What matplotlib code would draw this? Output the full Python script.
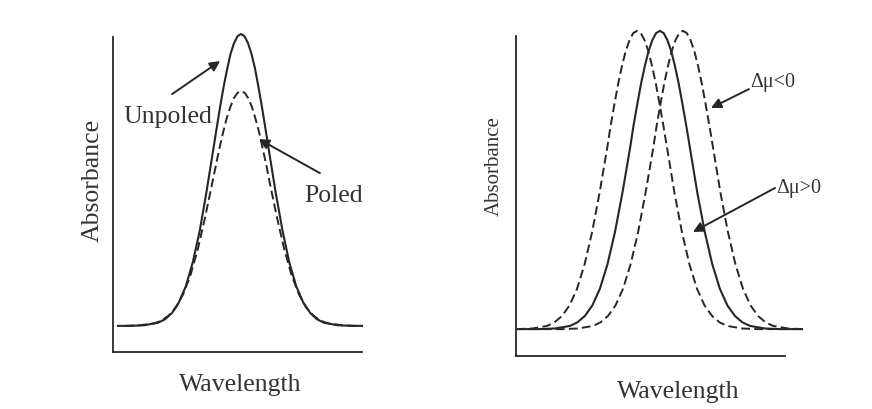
import matplotlib
matplotlib.use("Agg")
import matplotlib.pyplot as plt

# ------------------------------------------------------------------ Daten
# linkes Panel: Absorptionsbande ungepolt / gepolt (willkuerliche Einheiten)
unpoled_x = [2.0,
             7.0, 12.6, 18.1, 20.9, 23.7, 26.4, 29.2, 32.0, 34.8, 37.5,
             40.3, 41.7, 43.1, 44.5, 45.9, 47.2, 48.6, 50.0, 51.4,
             52.8, 54.2, 55.6, 57.0, 58.3, 59.7, 61.1, 62.5, 65.3,
             68.1, 70.8, 73.6, 76.4, 79.2, 81.9, 84.7, 90.3, 95.8,
             100.0]
unpoled_y = [8.3,
             8.3, 8.5, 9.3, 10.4, 12.4, 15.7, 20.8, 28.4, 38.4, 50.7,
             64.5, 71.5, 78.3, 84.6, 90.1, 94.7, 98.1, 100.3, 101.0,
             100.3, 98.1, 94.7, 90.1, 84.6, 78.3, 71.5, 64.5, 50.7,
             38.4, 28.4, 20.8, 15.7, 12.4, 10.4, 9.3, 8.5, 8.3,
             8.3]

poled_x = [5.0, 10.8, 16.6, 19.5, 22.4, 25.3, 28.2, 31.1, 34.0, 36.9,
           39.8, 41.3, 42.7, 44.2, 45.6, 47.1, 48.5, 50.0, 51.4,
           52.9, 54.3, 55.8, 57.2, 58.7, 60.1, 61.6, 63.0, 65.9,
           68.8, 71.7, 74.6, 77.5, 80.4, 83.3, 86.2, 92.0, 97.8]
poled_y = [8.3, 8.5, 9.1, 10.0, 11.6, 14.2, 18.4, 24.4, 32.5, 42.5,
           53.5, 59.2, 64.6, 69.7, 74.1, 77.8, 80.6, 82.3, 82.9,
           82.3, 80.6, 77.8, 74.1, 69.7, 64.6, 59.2, 53.5, 42.5,
           32.5, 24.4, 18.4, 14.2, 11.6, 10.0, 9.1, 8.5, 8.3]

# rechtes Panel: Stark-Verschiebung der Bande (Delta-mu < 0 / > 0),
# alle drei Banden mit gleicher Form, nur verschobener Lage
band_y = [8.4,
          8.4, 8.6, 9.4, 10.5, 12.5, 15.8, 21.0, 28.6, 38.7, 51.1,
          64.9, 72.0, 78.7, 85.1, 90.6, 95.3, 98.7, 100.9, 101.6,
          100.9, 98.7, 95.3, 90.6, 85.1, 78.7, 72.0, 64.9, 51.1,
          38.7, 28.6, 21.0, 15.8, 12.5, 10.5, 9.4, 8.6, 8.4,
          8.4]

center_x = [0.5,
            8.9, 14.5, 20.1, 22.8, 25.6, 28.4, 31.2, 34.0, 36.8, 39.6,
            42.4, 43.7, 45.1, 46.5, 47.9, 49.3, 50.7, 52.1, 53.5,
            54.9, 56.3, 57.7, 59.1, 60.5, 61.9, 63.3, 64.7, 67.4,
            70.2, 73.0, 75.8, 78.6, 81.4, 84.2, 87.0, 92.5, 98.1,
            106.3]
red_x = [0.2,
         0.4, 6.0, 11.6, 14.3, 17.1, 19.9, 22.7, 25.5, 28.3, 31.1,
         33.9, 35.2, 36.6, 38.0, 39.4, 40.8, 42.2, 43.6, 45.0,
         46.4, 47.8, 49.2, 50.6, 52.0, 53.4, 54.8, 56.2, 58.9,
         61.7, 64.5, 67.3, 70.1, 72.9, 75.7, 78.5, 84.0, 89.6,
         96.0]
blue_x = [10.0,
          17.5, 23.1, 28.7, 31.4, 34.2, 37.0, 39.8, 42.6, 45.4, 48.2,
          51.0, 52.3, 53.7, 55.1, 56.5, 57.9, 59.3, 60.7, 62.1,
          63.5, 64.9, 66.3, 67.7, 69.1, 70.5, 71.9, 73.3, 76.0,
          78.8, 81.6, 84.4, 87.2, 90.0, 92.8, 95.6, 101.1, 106.7,
          106.7]

# ------------------------------------------------------------------ Stil
INK = "#262626"
TXT = "#333333"
SERIF = ["Liberation Serif", "DejaVu Serif"]
DASH = (0, (4.5, 2.2))
plt.rcParams["font.family"] = SERIF

fig = plt.figure(figsize=(8.72, 4.10), dpi=100)
ax1 = fig.add_axes([0.1296, 0.139, 0.2856, 0.768])
ax2 = fig.add_axes([0.5917, 0.1293, 0.3085, 0.7805])


def bare_axes(ax):
    for side in ("top", "right"):
        ax.spines[side].set_visible(False)
    for side in ("left", "bottom"):
        ax.spines[side].set_color(INK)
        ax.spines[side].set_linewidth(1.3)
    ax.set_xticks([]); ax.set_yticks([])
    ax.set_xlim(0, 100); ax.set_ylim(0, 100)
    ax.patch.set_alpha(0)


def arrow(ax, tail, head):
    ax.annotate("", xy=head, xytext=tail,
                arrowprops=dict(arrowstyle="-|>", color=INK, lw=1.4,
                                mutation_scale=15, shrinkA=0, shrinkB=0),
                annotation_clip=False)


# ------------------------------------------------------------------ links
bare_axes(ax1)
ax1.plot(unpoled_x, unpoled_y, color=INK, lw=1.5, clip_on=False)
ax1.plot(poled_x, poled_y, color=INK, lw=1.4, ls=DASH, clip_on=False)
ax1.text(22.1, 74.9, "Unpoled", fontsize=18.5, color=TXT,
         ha="center", va="center")
arrow(ax1, (23.7, 81.9), (43.0, 92.4))
ax1.text(88.4, 49.8, "Poled", fontsize=18.5, color=TXT,
         ha="center", va="center")
arrow(ax1, (83.1, 56.8), (58.6, 67.6))

# ------------------------------------------------------------------ rechts
bare_axes(ax2)
ax2.plot(center_x, band_y, color=INK, lw=1.5, clip_on=False)
ax2.plot(red_x, band_y, color=INK, lw=1.4, ls=DASH, clip_on=False)
ax2.plot(blue_x, band_y, color=INK, lw=1.4, ls=DASH, clip_on=False)
ax2.text(95.5, 85.9, "Δμ<0", fontsize=14.5, color=TXT,
         ha="center", va="center")
arrow(ax2, (86.6, 83.4), (72.5, 77.5))
ax2.text(105.0, 52.5, "Δμ>0", fontsize=14.5, color=TXT,
         ha="center", va="center")
arrow(ax2, (96.3, 52.5), (65.8, 38.75))

# Achsentitel
fig.text(0.1067, 0.561, "Absorbance", rotation=90, fontsize=18.5, color=TXT,
         ha="center", va="center")
fig.text(0.5665, 0.595, "Absorbance", rotation=90, fontsize=15, color=TXT,
         ha="center", va="center")
fig.text(0.275, 0.061, "Wavelength", fontsize=18.5, color=TXT,
         ha="center", va="center")
fig.text(0.778, 0.044, "Wavelength", fontsize=18.5, color=TXT,
         ha="center", va="center")

fig.savefig("out.png", dpi=100, facecolor="white")
